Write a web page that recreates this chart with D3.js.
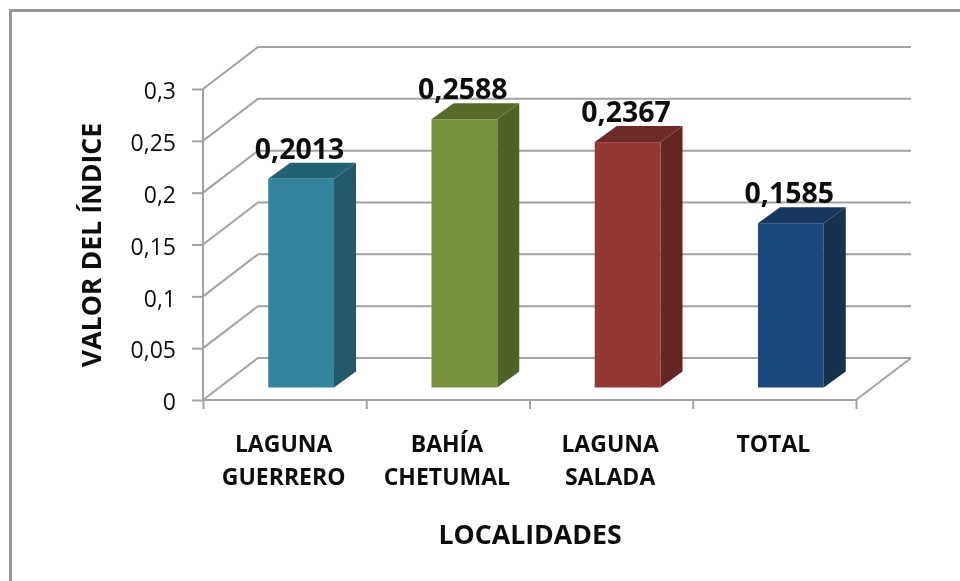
<!DOCTYPE html>
<html><head><meta charset="utf-8">
<script src="https://cdn.jsdelivr.net/npm/d3@7"></script>
<style>
html,body{margin:0;padding:0;background:#fff}
svg{display:block}
text{font-family:"Open Sans","Noto Sans",sans-serif;fill:#111}
</style></head><body><svg id="c" width="960" height="581"></svg>
<script>
const categories=[["LAGUNA","GUERRERO"],["BAHÍA","CHETUMAL"],["LAGUNA","SALADA"],["TOTAL"]];
const values=[0.2013,0.2588,0.2367,0.1585];
const valueLabels=["0,2013","0,2588","0,2367","0,1585"];
const yTicks=[0,0.05,0.1,0.15,0.2,0.25,0.3];
const yTickLabels=["0","0,05","0,1","0,15","0,2","0,25","0,3"];
const frontColors=["#31859c","#76923c","#953735","#1f497d"];
const topColors=["#246275","#566b2c","#6e2928","#173760"];
const sideColors=["#215868","#4f6228","#632523","#15304f"];

const svg=d3.select("#c");
const defs=svg.append("defs");
defs.append("filter").attr("id","soft")
  .attr("filterUnits","userSpaceOnUse").attr("x",0).attr("y",0).attr("width",960).attr("height",581)
  .append("feGaussianBlur").attr("stdDeviation",0.55);
const root=svg.append("g").attr("filter","url(#soft)");
root.append("rect").attr("width",960).attr("height",581).attr("fill","#fff");

const gray="#a3a3a3";
const plotLeft=203,plotRight=856,plotBase=400,plotTop=89;
const depth={x:55,y:-42};
const barDepth={x:22,y:-16};
const barLift=-12.5;

const x=d3.scaleBand().domain(d3.range(categories.length)).range([plotLeft,plotRight]).paddingInner(0);
const y=d3.scaleLinear().domain([0,0.3]).range([plotBase,plotTop]);
const barW=x.bandwidth()*0.403;
const barShift=(x.bandwidth()-barW)/2+16.5;

// frame
root.append("path").attr("d","M10.5,581V10.5H960").attr("fill","none").attr("stroke","#999").attr("stroke-width",3);

// gridlines on walls
const grid=root.append("g").attr("fill","none").attr("stroke",gray).attr("stroke-width",2);
yTicks.forEach(t=>{
  grid.append("path").attr("d",`M${plotLeft},${y(t)}L${plotLeft+depth.x},${y(t)+depth.y}H${plotRight+depth.x}`);
});
grid.append("path").attr("d",`M${plotRight},${plotBase}L${plotRight+depth.x},${plotBase+depth.y}`);

// axes
const yAxis=d3.axisLeft(y).tickValues(yTicks).tickSize(11).tickPadding(16).tickFormat((d,i)=>yTickLabels[i]);
const gy=root.append("g").attr("transform",`translate(${plotLeft},0)`).call(yAxis);
const xAxis=d3.axisBottom(d3.scaleLinear().domain([0,4]).range([plotLeft,plotRight])).tickValues([0,1,2,3,4]).tickSize(9).tickFormat("");
const gx=root.append("g").attr("transform",`translate(0,${plotBase})`).call(xAxis);
[gy,gx].forEach(g=>{g.selectAll("path,line").attr("stroke",gray).attr("stroke-width",2);});
gy.select(".domain").attr("d",`M0,${plotTop}V${plotBase}`);
gx.select(".domain").attr("d",`M${plotLeft},0H${plotRight}`);
gy.selectAll("text").attr("font-size",23).attr("fill","#222").attr("dy","0.42em").style("font-family",'"Open Sans"');

// bars
const bars=root.append("g").selectAll("g").data(values).join("g");
const bx=(i)=>x(i)+barShift;
const by=(v)=>y(v)+barLift;
const by0=y(0)+barLift;
bars.append("path").attr("fill",(d,i)=>sideColors[i]).attr("d",(d,i)=>{
  const r=bx(i)+barW;
  return `M${r},${by(d)}l${barDepth.x},${barDepth.y}V${by0+barDepth.y}L${r},${by0}Z`;
});
bars.append("path").attr("fill",(d,i)=>topColors[i]).attr("d",(d,i)=>{
  return `M${bx(i)},${by(d)}l${barDepth.x},${barDepth.y}h${barW}l${-barDepth.x},${-barDepth.y}Z`;
});
bars.append("rect").attr("fill",(d,i)=>frontColors[i])
  .attr("x",(d,i)=>bx(i)).attr("width",barW)
  .attr("y",d=>by(d)).attr("height",d=>by0-by(d));
bars.append("text").text((d,i)=>valueLabels[i])
  .attr("x",(d,i)=>bx(i)+barW/2-1.5)
  .attr("y",d=>by(d)-20)
  .attr("text-anchor","middle").attr("font-size",28.5).attr("font-weight",700).attr("fill","#0a0a0a");

// category labels
const catG=root.append("g").selectAll("text").data(categories).join("text")
  .attr("text-anchor","middle").attr("font-size",23).attr("font-weight",700).attr("fill","#1a1a1a");
catG.each(function(d,i){
  d3.select(this).selectAll("tspan").data(d).join("tspan")
    .attr("x",x(i)+x.bandwidth()/2-1).attr("y",(t,j)=>452+j*32.5).text(t=>t);
});

// axis titles
root.append("text").text("LOCALIDADES").attr("x",530).attr("y",544).attr("text-anchor","middle")
  .attr("font-size",26.7).attr("font-weight",700);
root.append("text").text("VALOR DEL ÍNDICE").attr("transform","translate(101,245) rotate(-90)").attr("text-anchor","middle")
  .attr("font-size",26.7).attr("font-weight",700);
</script></body></html>
